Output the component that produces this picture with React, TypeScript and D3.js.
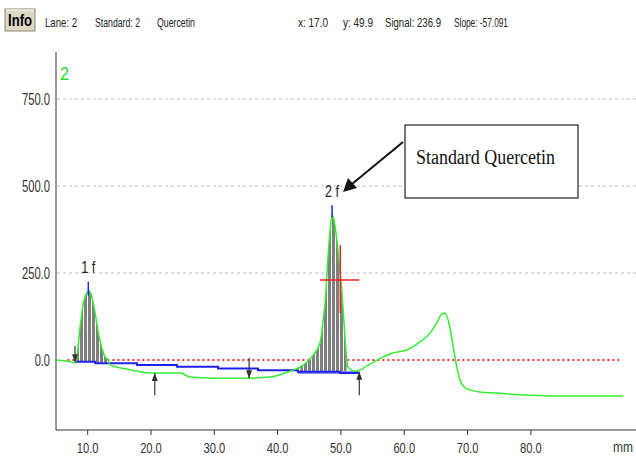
import React from "react";
import * as d3 from "d3";

// densitometer trace, [mm, signal]
const signal: [number, number][] = [
  [5.0, 0], [6.6, -3], [7.55, -6], [8.0, -9], [8.29, 9], [8.81, 96], [9.33, 164],
  [9.87, 193], [10.23, 199], [10.66, 182], [11.18, 135], [11.7, 78], [12.24, 34],
  [12.76, 9], [13.23, 0], [13.55, -14], [16.5, -27], [19.9, -37], [24.6, -37],
  [26.2, -49], [29.8, -52], [35.2, -52], [38.8, -49], [42.4, -29], [43.6, -20],
  [45.6, 14], [46.7, 49], [47.2, 115], [47.5, 164], [48.0, 307], [48.3, 374],
  [48.6, 417], [48.9, 402], [49.3, 353], [49.7, 282], [50.1, 210], [50.4, 129],
  [50.65, 66], [50.9, 0], [51.1, -20], [52.2, -32], [53.0, -29], [54.1, -17],
  [55.7, 0], [58.2, 20], [60.4, 29], [62.5, 52], [64.1, 78], [65.2, 109],
  [65.9, 132], [66.4, 135], [67.2, 95], [68.0, 9], [68.8, -57], [69.9, -83],
  [71.97, -92], [74.7, -95], [76.7, -98], [79.9, -101], [84.1, -103], [89.3, -103],
  [94.6, -103],
];

// stepped integration baseline
const baseline: [number, number][] = [
  [8.0, -5], [11.2, -9], [17.8, -14], [24.1, -19], [30.6, -24], [36.9, -29],
  [43.2, -34], [49.9, -37], [52.8, -37],
];

const peakRanges: [number, number][] = [[8.0, 13.23], [43.6, 50.9]];
const peakLabels = ["1 f", "2 f"];
const peakMarks: [number, number, number][] = [
  [10.1, 225, 185],
  [48.6, 445, 411],
];
const downArrows: [number, number, number][] = [[8.0, 40, -6], [35.5, 6, -52]];
const upArrows: [number, number, number][] = [[20.6, -37, -101], [52.9, -34, -101]];
const cross = { x: 49.9, y: 230, x0: 46.7, x1: 52.9, y0: 135, y1: 330 };

const yTicks = [0, 250, 500, 750];
const gridTicks = [250, 500, 750];
const xTicks = [10, 20, 30, 40, 50, 60, 70, 80];

const header = [
  { text: "Lane: 2", x: 45, w: 32 },
  { text: "Standard: 2", x: 95, w: 45 },
  { text: "Quercetin", x: 157, w: 38 },
  { text: "x: 17.0", x: 298, w: 30 },
  { text: "y: 49.9", x: 343, w: 30 },
  { text: "Signal: 236.9", x: 385, w: 56 },
  { text: "Slope: -57.091", x: 454, w: 54 },
];

const W = 636;
const H = 457;
const font = "'Liberation Sans', Arial, sans-serif";

// condensed label width, like the narrow UI font
const labelWidth = (s: string) =>
  s.split("").reduce((w, c) => w + (c === "." ? 2.5 : 6.4), 0);

export default function App() {
  const x = d3.scaleLinear().domain([5, 96.6]).range([56, 636]);
  const y = d3.scaleLinear().domain([-201, 885]).range([430, 52]);

  const line = d3
    .line<[number, number]>()
    .x((d) => x(d[0]))
    .y((d) => y(d[1]))
    .curve(d3.curveMonotoneX);
  const step = d3
    .line<[number, number]>()
    .x((d) => x(d[0]))
    .y((d) => y(d[1]))
    .curve(d3.curveStepAfter);

  const baseAt = (mm: number) => {
    let v = baseline[0][1];
    for (const b of baseline) if (b[0] <= mm) v = b[1];
    return v;
  };
  const area = d3
    .area<[number, number]>()
    .x((d) => x(d[0]))
    .y0((d) => y(baseAt(d[0])))
    .y1((d) => y(Math.max(d[1], baseAt(d[0]))))
    .curve(d3.curveMonotoneX);

  const arrow = (mm: number, tip: number, tail: number, key: string) => {
    const xt = x(mm);
    const yt = y(tip);
    const dir = y(tail) > yt ? 1 : -1;
    return (
      <g key={key} stroke="#333" fill="#333">
        <line x1={xt} x2={xt} y1={y(tail)} y2={yt} strokeWidth={1.2} />
        <path d={`M${xt},${yt} L${xt - 3},${yt + dir * 8} L${xt + 3},${yt + dir * 8} Z`} stroke="none" />
      </g>
    );
  };

  return (
    <svg width={W} height={H} style={{ position: "absolute", left: 0, top: 0, background: "#fff" }}>
      <defs>
        <pattern id="hatch" width={4} height={4} patternUnits="userSpaceOnUse">
          <rect width={4} height={4} fill="#fff" />
          <rect width={3} height={4} fill="#7f7f7f" />
        </pattern>
        <clipPath id="plot">
          <rect x={56} y={52} width={580} height={378} />
        </clipPath>
      </defs>

      {/* header bar */}
      <rect x={5} y={9} width={30} height={22} fill="#ddd8c4" stroke="#8c8670" />
      <line x1={6} x2={34} y1={10} y2={10} stroke="#fff" />
      <text x={8} y={26} fontFamily={font} fontWeight="bold" fontSize={17}
        textLength={24} lengthAdjust="spacingAndGlyphs">
        Info
      </text>
      {header.map((h) => (
        <text key={h.text} x={h.x} y={27} fontFamily={font} fontSize={13} fill="#222"
          textLength={h.w} lengthAdjust="spacingAndGlyphs">
          {h.text}
        </text>
      ))}

      {/* grid */}
      {gridTicks.map((t) => (
        <line key={t} x1={57} x2={W} y1={y(t)} y2={y(t)} stroke="#bdbdbd" strokeDasharray="3,3" />
      ))}
      <line x1={x(6.8)} x2={x(94.4)} y1={y(0)} y2={y(0)} stroke="#ff3030" strokeWidth={2} strokeDasharray="2,3" />

      {/* axes */}
      <line x1={56} x2={56} y1={52} y2={430} stroke="#333" />
      <line x1={56} x2={W} y1={430} y2={430} stroke="#333" />
      {yTicks.map((t) => (
        <text key={t} x={50} y={y(t) + 6} textAnchor="end" fontFamily={font} fontSize={16} fill="#333"
          textLength={labelWidth(t.toFixed(1))} lengthAdjust="spacingAndGlyphs">
          {t.toFixed(1)}
        </text>
      ))}
      {xTicks.map((t) => (
        <g key={t}>
          <line x1={x(t)} x2={x(t)} y1={430} y2={435} stroke="#333" />
          <text x={x(t) - labelWidth(t.toFixed(1)) / 2} y={453} fontFamily={font} fontSize={15} fill="#333"
            textLength={labelWidth(t.toFixed(1))} lengthAdjust="spacingAndGlyphs">
            {t.toFixed(1)}
          </text>
        </g>
      ))}
      <text x={613} y={452} fontFamily={font} fontSize={14} fill="#333"
        textLength={20} lengthAdjust="spacingAndGlyphs">mm</text>
      <text x={60} y={80} fontFamily={font} fontSize={18} fill="#22dd22"
        textLength={9} lengthAdjust="spacingAndGlyphs">2</text>

      <g clipPath="url(#plot)">
        {peakRanges.map((r, i) => (
          <path key={i} d={area(signal.filter((d) => d[0] >= r[0] && d[0] <= r[1])) ?? ""} fill="url(#hatch)" />
        ))}
        <line x1={x(43.2)} x2={x(52.8)} y1={y(-36)} y2={y(-36)} stroke="#8c8cff" strokeWidth={3} />
        <path d={step(baseline) ?? ""} fill="none" stroke="#2020ee" strokeWidth={2} />
        <path d={line(signal) ?? ""} fill="none" stroke="#33ee33" strokeWidth={1.5} />
        {peakMarks.map((p, i) => (
          <line key={i} x1={x(p[0])} x2={x(p[0])} y1={y(p[1])} y2={y(p[2])} stroke="#2020ee" strokeWidth={1.5} />
        ))}
        <line x1={x(cross.x0)} x2={x(cross.x1)} y1={y(cross.y)} y2={y(cross.y)} stroke="#ee2020" strokeWidth={1.5} />
        <line x1={x(cross.x)} x2={x(cross.x)} y1={y(cross.y1)} y2={y(cross.y0)} stroke="#ee2020" strokeWidth={1.5} />
        {downArrows.map((a, i) => arrow(a[0], a[2], a[1], "d" + i))}
        {upArrows.map((a, i) => arrow(a[0], a[1], a[2], "u" + i))}
      </g>

      {peakLabels.map((l, i) => (
        <text key={l} x={x(peakMarks[i][0]) - 7} y={i === 0 ? 273 : 197}
          fontFamily={font} fontSize={16} fill="#222" textLength={14} lengthAdjust="spacingAndGlyphs">
          {l}
        </text>
      ))}

      {/* annotation */}
      <rect x={405} y={125} width={173} height={73} fill="#fff" stroke="#222" strokeWidth={1.2} />
      <text x={416} y={164} fontFamily="'Liberation Serif', 'Times New Roman', serif" fontSize={20}
        fill="#111" textLength={139} lengthAdjust="spacingAndGlyphs">
        Standard Quercetin
      </text>
      <line x1={403} x2={352} y1={142} y2={184} stroke="#111" strokeWidth={2} />
      <path d="M343,192 L348,178 L357,188 Z" fill="#111" />
    </svg>
  );
}
